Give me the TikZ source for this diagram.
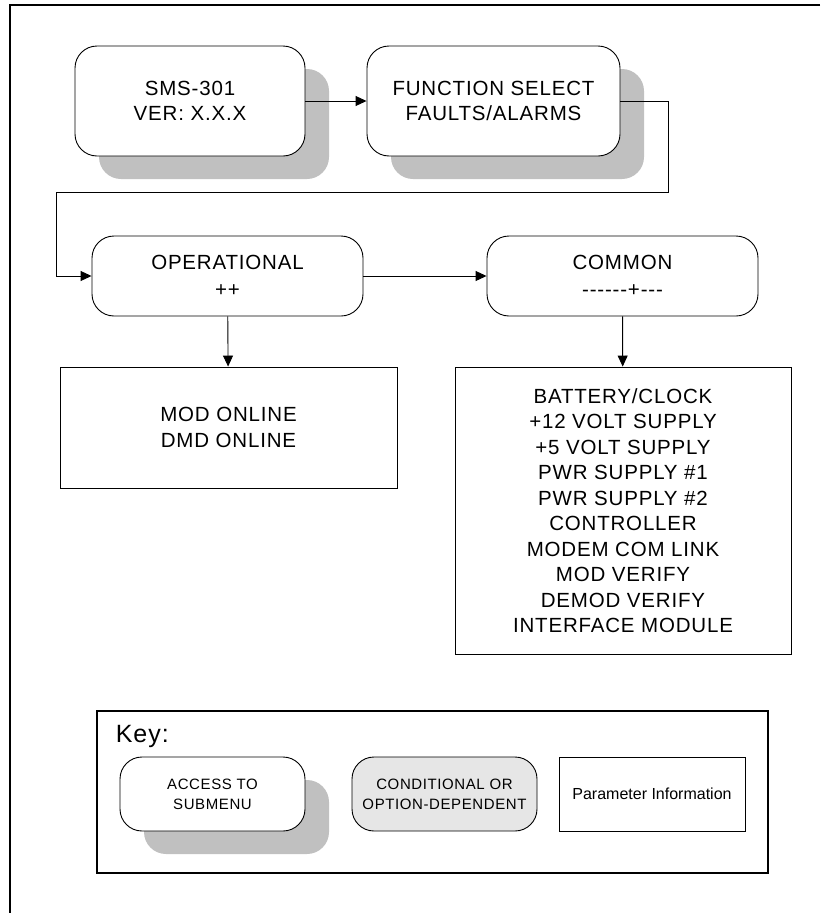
\documentclass[tikz,border=0pt]{standalone}
\usepackage{fontspec}
\setmainfont{Liberation Sans}
\newfontfamily\menufont[LetterSpace=4]{Liberation Sans}
\usetikzlibrary{arrows.meta}
\usetikzlibrary{shadows}
\tikzset{>={Triangle[length=11pt,width=10pt]}}
\definecolor{shadowgray}{HTML}{C0C0C0}
\definecolor{condgray}{HTML}{E6E6E6}

\begin{document}
\begin{tikzpicture}[x=1pt, y=-1pt, line width=.9pt,
    bigtext/.style={font=\menufont\fontsize{20.5}{25.5}\selectfont},
    keytext/.style={font=\menufont\fontsize{15}{20}\selectfont},
    itembox/.style={draw, rounded corners=22pt, fill=white, align=center, bigtext},
    menubox/.style={itembox, drop shadow={shadow xshift=24pt, shadow yshift=-23pt, fill=shadowgray, opacity=1}},
    infobox/.style={draw, fill=white, align=center, bigtext}]
        \useasboundingbox (0,0) rectangle (820,913);
        \draw[line width=2pt] (820,5) -- (10,5) -- (10,913);
        % node
        \node[menubox, minimum width=230pt, minimum height=110pt] (sms) at (190,101) {SMS-301\\VER: X.X.X};
        \node[menubox, minimum width=253pt, minimum height=110pt] (func) at (493.5,101) {FUNCTION SELECT\\FAULTS/ALARMS};
        \node[itembox, minimum width=271pt, minimum height=80pt] (oper) at (227.5,276) {OPERATIONAL\\[1.5pt]++};
        \node[itembox, minimum width=271pt, minimum height=80pt] (common) at (622.5,276) {COMMON\\[1.5pt]-{}-{}-{}-{}-{}-+-{}-{}-};
        \node[infobox, minimum width=337pt, minimum height=121pt] (online) at (228.5,427.5) {MOD ONLINE\\DMD ONLINE};
        \node[infobox, minimum width=336pt, minimum height=287pt] (faults) at (623,510.5) {BATTERY/CLOCK\\+12 VOLT SUPPLY\\+5 VOLT SUPPLY\\PWR SUPPLY \#1\\PWR SUPPLY \#2\\CONTROLLER\\MODEM COM LINK\\MOD VERIFY\\DEMOD VERIFY\\INTERFACE MODULE};
        \coordinate (turnR) at (668,192);
        \coordinate (turnL) at (56,192);
        % lines
        \draw[->] (sms) -- (func);
        \draw[->] (func.east) -| (turnR) -- (turnL) |- (oper.west);
        \draw[->] (oper) -- (common);
        \draw[->] (oper) -- (online);
        \draw[->] (common) -- (faults);
        % key
        \node[draw, line width=2pt, minimum width=671pt, minimum height=162pt] (key) at (432.5,792) {};
        \node[anchor=west, font=\menufont\fontsize{25}{30}\selectfont] (keylabel) at (112,736) {Key:};
        \node[menubox, keytext, minimum width=185pt, minimum height=74pt] (access) at (212.5,794) {ACCESS TO\\SUBMENU};
        \node[itembox, keytext, fill=condgray, minimum width=185pt, minimum height=74pt] (cond) at (444.5,794) {CONDITIONAL OR\\OPTION-DEPENDENT};
        \node[infobox, font=\fontsize{16}{20}\selectfont, minimum width=186pt, minimum height=74pt] (param) at (652,794) {Parameter Information};
      \end{tikzpicture}
\end{document}
